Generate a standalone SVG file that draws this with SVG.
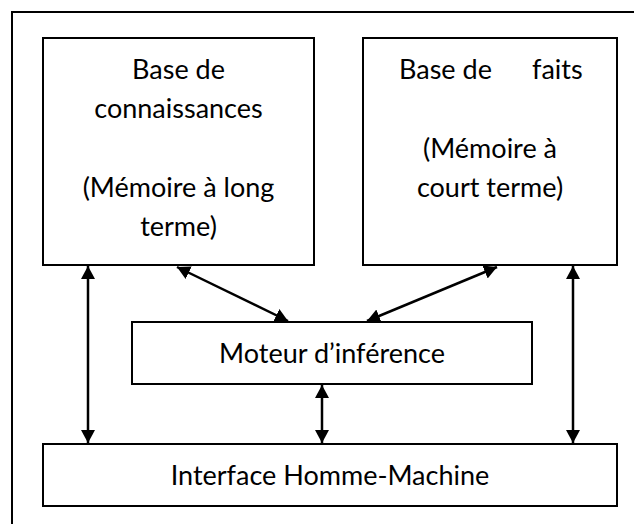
<svg xmlns="http://www.w3.org/2000/svg" width="634" height="524" viewBox="0 0 634 524">
<defs>
<marker id="ah" markerWidth="13" markerHeight="14" viewBox="0 0 13 14" refX="13" refY="7" orient="auto-start-reverse" markerUnits="userSpaceOnUse">
<path d="M0,0 L13,7 L0,14 Z" fill="#000"/>
</marker>
</defs>
<style>
.box{fill:#fff;stroke:#000;stroke-width:2}
.t{font-family:Lato,"Liberation Sans",sans-serif;font-size:27px;fill:#000;text-anchor:middle}
.c{stroke:#000;stroke-width:2.5;fill:none;marker-start:url(#ah);marker-end:url(#ah)}
</style>
<rect width="634" height="524" fill="#fff"/>
<path d="M12,524 L12,12 L634,12" fill="none" stroke="#000" stroke-width="2"/>
<g id="base-connaissances">
<rect class="box" x="43" y="38" width="271" height="227"/>
<text class="t"><tspan x="178.5" y="79">Base de</tspan><tspan x="178.5" y="118">connaissances</tspan><tspan x="178.5" y="197">(Mémoire à long</tspan><tspan x="178.5" y="236">terme)</tspan></text>
</g>
<g id="base-faits">
<rect class="box" x="363" y="38" width="254" height="227"/>
<text class="t" style="text-anchor:start"><tspan x="399" y="79">Base de</tspan><tspan x="532" y="79">faits</tspan></text>
<text class="t"><tspan x="490" y="158">(Mémoire à</tspan><tspan x="490" y="197">court terme)</tspan></text>
</g>
<g id="moteur">
<rect class="box" x="132" y="322" width="400" height="62"/>
<text class="t" x="332" y="363">Moteur d’inférence</text>
</g>
<g id="ihm">
<rect class="box" x="43" y="444" width="574" height="62"/>
<text class="t" x="330" y="485">Interface Homme-Machine</text>
</g>
<g id="connectors">
<line class="c" x1="88" y1="266" x2="88" y2="443"/>
<line class="c" x1="573" y1="266" x2="573" y2="443"/>
<line class="c" x1="322" y1="385" x2="322" y2="443"/>
<line class="c" x1="177" y1="267" x2="288" y2="321"/>
<line class="c" x1="497" y1="267" x2="367" y2="321"/>
</g>
</svg>
